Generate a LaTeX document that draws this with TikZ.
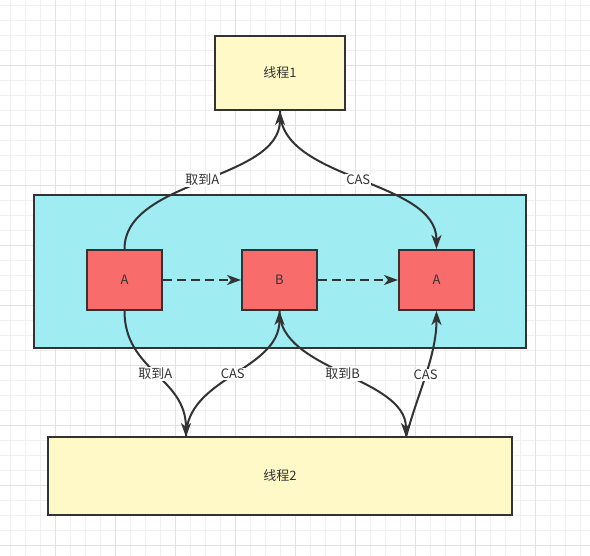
\documentclass[tikz,border=0pt]{standalone}
\usepackage{fontspec}
\newfontfamily\cjk{Noto Sans CJK SC}
\usetikzlibrary{arrows.meta}
\definecolor{gridminor}{HTML}{F0F0F0}
\definecolor{gridmajor}{HTML}{E2E2E2}
\definecolor{linegray}{HTML}{333333}
\definecolor{threadfill}{HTML}{FFF9C7}
\definecolor{memfill}{HTML}{9FECF2}
\definecolor{cellfill}{HTML}{F96C6C}
\begin{document}
\begin{tikzpicture}[x=1pt,y=1pt,
    every node/.style={font=\cjk\fontsize{13}{15}\selectfont, text=linegray},
    thread/.style={draw=linegray, line width=2pt, fill=threadfill},
    cell/.style={draw=linegray, line width=2pt, fill=cellfill, minimum width=75pt, minimum height=60pt},
    link/.style={draw=linegray, line width=2pt, -{Stealth[length=14pt,width=10pt,inset=4pt]}},
    tag/.style={fill=white, inner sep=1pt, midway}]
    \useasboundingbox (0,0) rectangle (590,556);
    \fill[white] (0,0) rectangle (590,556);
    % grid
    \foreach \gx in {10.7,25.7,...,585.7} \draw[gridminor, line width=1pt] (\gx,0) -- (\gx,556);
    \foreach \gy in {10.7,25.7,...,550.7} \draw[gridminor, line width=1pt] (0,\gy) -- (590,\gy);
    \foreach \gx in {55.7,115.7,...,535.7} \draw[gridmajor, line width=1pt] (\gx,0) -- (\gx,556);
    \foreach \gy in {10.7,70.7,...,490.7} \draw[gridmajor, line width=1pt] (0,\gy) -- (590,\gy);

    \node[thread, minimum width=130pt, minimum height=74pt] (T1) at (280,483) {线程1};
    \node[draw=linegray, line width=2pt, fill=memfill, minimum width=492pt, minimum height=153.5pt] (Mem) at (280,284.25) {};
    \node[cell] (A1) at (124.5,276) {A};
    \node[cell] (B) at (279.5,276) {B};
    \node[cell] (A2) at (436.5,276) {A};
    \node[thread, minimum width=464pt, minimum height=78pt] (T2) at (280,80) {线程2};
    \coordinate (T2a) at (186,119);
    \coordinate (T2b) at (406,119);

    \draw (A1) edge[link, out=90, in=-90, distance=70pt] node[tag]{取到A} (T1);
    \draw (T1) edge[link, out=-90, in=90, distance=70pt] node[tag]{CAS} (A2);
    \draw (A1) edge[link, dash pattern=on 9pt off 5pt] (B);
    \draw (B) edge[link, dash pattern=on 9pt off 5pt] (A2);
    \draw (A1) edge[link, out=-90, in=90, distance=60pt] node[tag]{取到A} (T2a);
    \draw (T2a) edge[link, out=90, in=-90, distance=60pt] node[tag]{CAS} (B);
    \draw (B) edge[link, out=-90, in=90, distance=60pt] node[tag]{取到B} (T2b);
    \draw (T2b) edge[link, out=75, in=-90, distance=45pt] node[tag]{CAS} (A2);
\end{tikzpicture}
\end{document}
